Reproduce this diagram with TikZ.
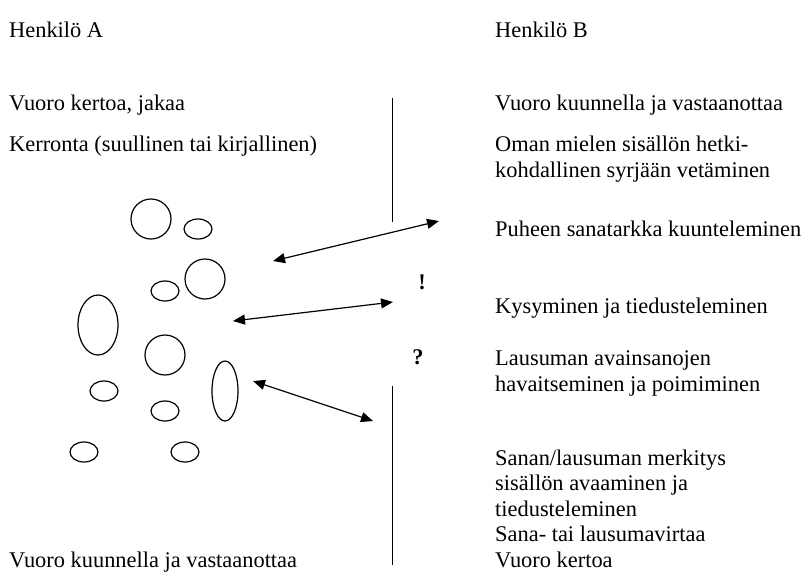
\documentclass[tikz,border=0pt]{standalone}
\usepackage{fontspec}
\setmainfont{Liberation Serif}
\usetikzlibrary{arrows.meta,shapes.geometric}

\begin{document}
\begin{tikzpicture}[
    x=1pt, y=-1pt,
    every node/.style={font=\fontsize{22.4}{25.4}\selectfont},
    txt/.style={anchor=base west, inner sep=0pt, align=left},
    bubble/.style 2 args={draw, ellipse, line width=1.2pt, inner sep=0pt, minimum width=#1, minimum height=#2},
    circ/.style={bubble={40pt}{40pt}},
    small/.style={bubble={28pt}{20pt}},
    tall/.style={bubble={40pt}{60pt}},
    slim/.style={bubble={26pt}{60pt}},
    divider/.style={line width=1.2pt},
    dbl/.style={{Triangle[length=12pt,width=10pt]}-{Triangle[length=12pt,width=10pt]}, line width=1.2pt}
]
\useasboundingbox (0,0) rectangle (802,573);

% Henkilö A
\node[txt] (headA) at (9,37) {Henkilö A};
\node[txt] (turnA) at (9,110) {Vuoro kertoa, jakaa};
\node[txt] (tellA) at (9,151) {Kerronta (suullinen tai kirjallinen)};
\node[txt] (nextA) at (9,567) {Vuoro kuunnella ja vastaanottaa};

% Henkilö B (monirivisen solmun base = viimeinen rivi)
\node[txt] (headB) at (495,37) {Henkilö B};
\node[txt] (turnB) at (495,110) {Vuoro kuunnella ja vastaanottaa};
\node[txt] (ownB) at (495,177) {Oman mielen sisällön hetki-\\kohdallinen syrjään vetäminen};
\node[txt] (listenB) at (495,236) {Puheen sanatarkka kuunteleminen};
\node[txt] (askB) at (495,313) {Kysyminen ja tiedusteleminen};
\node[txt] (keyB) at (495,391) {Lausuman avainsanojen\\havaitseminen ja poimiminen};
\node[txt] (meanB) at (495,567) {Sanan/lausuman merkitys\\sisällön avaaminen ja\\tiedusteleminen\\Sana- tai lausumavirtaa\\Vuoro kertoa};

% puhevirran kuplat
\node[circ] (b1) at (151,219) {};
\node[small] (b2) at (198,229) {};
\node[circ] (b3) at (205,279) {};
\node[small] (b4) at (165,291) {};
\node[tall] (b5) at (98,325) {};
\node[circ] (b6) at (165,355) {};
\node[small] (b7) at (104,391) {};
\node[slim] (b8) at (225,391) {};
\node[small] (b9) at (165,411) {};
\node[small] (b10) at (84,452) {};
\node[small] (b11) at (185,452) {};

% merkit
\node[font=\fontsize{22.4}{25.4}\selectfont\bfseries] (excl) at (422,282) {!};
\node[font=\fontsize{22.4}{25.4}\selectfont\bfseries] (quest) at (418,357) {?};

% väliseinä
\coordinate (wallTop) at (392.5,98);
\coordinate (gapTop) at (392.5,222);
\coordinate (gapBot) at (392.5,386);
\coordinate (wallBot) at (392.5,565);
\draw[divider] (wallTop) -- (gapTop);
\draw[divider] (gapBot) -- (wallBot);

% nuolet
\coordinate (a1) at (273,261);
\coordinate (c1) at (439,221);
\coordinate (a2) at (233,321);
\coordinate (c2) at (393,302);
\coordinate (a3) at (253,381);
\coordinate (c3) at (373,421);
\draw[dbl] (a1) -- (c1);
\draw[dbl] (a2) -- (c2);
\draw[dbl] (a3) -- (c3);
\end{tikzpicture}
\end{document}
